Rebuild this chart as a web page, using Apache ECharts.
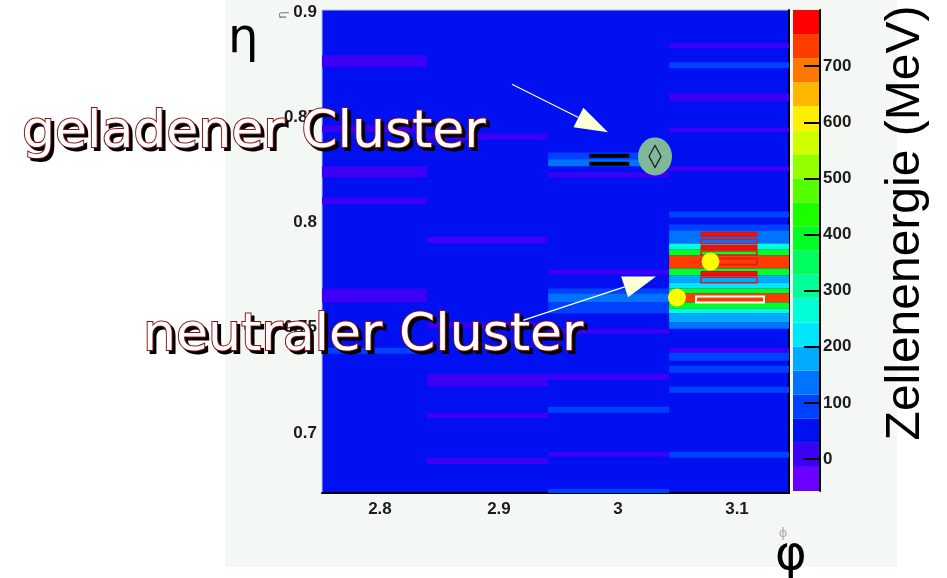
<!DOCTYPE html>
<html>
<head>
<meta charset="utf-8">
<script src="https://cdn.jsdelivr.net/npm/echarts@6/dist/echarts.min.js"></script>
<style>
html, body { margin: 0; padding: 0; background: #fff; }
#main { width: 947px; height: 578px; }
</style>
</head>
<body>
<div id="main"></div>
<script>
// phi edges of the calorimeter cell columns
var phiEdges = [2.738, 2.8396, 2.9413, 3.0430, 3.1447];

// cells per phi column: [etaLow, etaHigh, energy in MeV]
var col0Cells = [
  [0.8738, 0.8795, 5],
  [0.8429, 0.8462, 5],
  [0.8214, 0.8267, 5],
  [0.8086, 0.8119, 5],
  [0.7619, 0.7686, 5],
  [0.7376, 0.7405, 95]
];
var col1Cells = [
  [0.8395, 0.8424, 5],
  [0.7900, 0.7933, 5],
  [0.7500, 0.7524, 5],
  [0.7219, 0.7281, 5],
  [0.7071, 0.7095, 5],
  [0.6852, 0.6881, 5]
];
var col2Cells = [
  [0.8300, 0.8333, 95],
  [0.8267, 0.8300, 140],
  [0.8214, 0.8238, 5],
  [0.7752, 0.7776, 5],
  [0.7662, 0.7686, 95],
  [0.7619, 0.7662, 140],
  [0.7567, 0.7619, 95],
  [0.7471, 0.7495, 5],
  [0.7252, 0.7281, 5],
  [0.7095, 0.7124, 95],
  [0.6886, 0.6910, 5],
  [0.6714, 0.6733, 95]
];
var col3Cells = [
  [0.8829, 0.8852, 5],
  [0.8733, 0.8762, 95],
  [0.8576, 0.8614, 5],
  [0.8429, 0.8452, 5],
  [0.8243, 0.8267, 5],
  [0.8024, 0.8052, 95],
  [0.7962, 0.7990, 90],
  [0.7900, 0.7962, 140],
  [0.7871, 0.7900, 265],
  [0.7843, 0.7871, 390],
  [0.7781, 0.7843, 740],
  [0.7748, 0.7781, 390],
  [0.7714, 0.7748, 180],
  [0.7686, 0.7714, 220],
  [0.7662, 0.7686, 390],
  [0.7619, 0.7662, 735],
  [0.7590, 0.7619, 390],
  [0.7567, 0.7590, 265],
  [0.7524, 0.7567, 180],
  [0.7495, 0.7524, 140],
  [0.7381, 0.7405, 5],
  [0.7343, 0.7381, 95],
  [0.7286, 0.7319, 95],
  [0.7190, 0.7219, 95],
  [0.6881, 0.6910, 95]
];
var emptyCellEnergy = 50;

// cells attached to the track (black) and to the neutral cluster (red boxes)
// [phiLow, phiHigh, etaLow, etaHigh]
var trackCells = [
  [2.9759, 3.0095, 0.8308, 0.8327],
  [2.9759, 3.0095, 0.8270, 0.8289]
];
var neutralCellsFilled = [
  [3.0698, 3.1168, 0.7935, 0.7954],
  [3.0698, 3.1168, 0.7871, 0.7890],
  [3.0698, 3.1168, 0.7748, 0.7767]
];
var neutralCellsOpen = [
  [3.0698, 3.1168, 0.7899, 0.7922],
  [3.0698, 3.1168, 0.7845, 0.7864],
  [3.0698, 3.1168, 0.7800, 0.7829],
  [3.0698, 3.1168, 0.7713, 0.7740]
];
var hottestCell = [[3.0656, 3.1227, 0.7619, 0.7648]];

// cluster positions [phi, eta]
var chargedCluster = [[3.0311, 0.8314]];
var neutralClusters = [[3.0777, 0.7814], [3.0496, 0.7643]];

// arrows [phiFrom, etaFrom, phiTo, etaTo]
var arrows = [
  [2.9109, 0.8657, 2.9916, 0.8429],
  [2.9118, 0.7519, 3.0319, 0.7743]
];

// axes
var phiTicks = [2.8, 2.9, 3, 3.1];
var etaTicks = [0.7, 0.75, 0.8, 0.85, 0.9];
var energyTicks = [0, 100, 200, 300, 400, 500, 600, 700];
var zMin = -57, zMax = 800;
var levelColors = ['#6a00ff', '#3c00f4', '#0010f0', '#0040ff', '#0073ff', '#00aaff', '#00e6ff', '#00ffd8',
  '#00ff99', '#00ff5e', '#00ff22', '#19ff00', '#55ff00', '#95ff00', '#d0ff00', '#fff000',
  '#ffb700', '#ff7700', '#ff3c00', '#ff0000'];

var chart = echarts.init(document.getElementById('main'));

var step = (zMax - zMin) / levelColors.length;
var pieces = [], barData = [];
for (var i = 0; i < levelColors.length; i++) {
  var lo = zMin + i * step, hi = zMin + (i + 1) * step;
  pieces.push({ gte: lo, lt: hi + (i == levelColors.length - 1 ? 1 : 0), color: levelColors[i] });
  barData.push([0, 1, lo, hi, (lo + hi) / 2]);
}
function levelColor(v) {
  return levelColors[Math.max(0, Math.min(levelColors.length - 1, Math.floor((v - zMin) / step)))];
}

var cellData = [];
[col0Cells, col1Cells, col2Cells, col3Cells].forEach(function (col, c) {
  col.forEach(function (d) {
    cellData.push([phiEdges[c], phiEdges[c + 1], d[0], d[1], d[2]]);
  });
});

function renderCell(params, api) {
  var p0 = api.coord([api.value(0), api.value(3)]);
  var p1 = api.coord([api.value(1), api.value(2)]);
  return {
    type: 'rect',
    shape: { x: p0[0], y: p0[1], width: p1[0] - p0[0], height: p1[1] - p0[1] },
    style: { fill: api.visual('color') }
  };
}

function boxRenderer(fill, stroke, lw) {
  return function (params, api) {
    var p0 = api.coord([api.value(0), api.value(3)]);
    var p1 = api.coord([api.value(1), api.value(2)]);
    return {
      type: 'rect',
      shape: { x: p0[0], y: p0[1], width: p1[0] - p0[0], height: p1[1] - p0[1] },
      style: { fill: fill, stroke: stroke, lineWidth: lw }
    };
  };
}

function renderArrow(params, api) {
  var s = api.coord([api.value(0), api.value(1)]);
  var t = api.coord([api.value(2), api.value(3)]);
  var dx = t[0] - s[0], dy = t[1] - s[1];
  var len = Math.sqrt(dx * dx + dy * dy);
  var ux = dx / len, uy = dy / len;
  var hl = 33, hw = 11;
  var bx = t[0] - ux * hl, by = t[1] - uy * hl;
  return {
    type: 'group',
    children: [
      { type: 'line', shape: { x1: s[0], y1: s[1], x2: bx, y2: by }, style: { stroke: '#ffffff', lineWidth: 1.2 } },
      { type: 'polygon', shape: { points: [[t[0], t[1]], [bx - uy * hw, by + ux * hw], [bx + uy * hw, by - ux * hw]] },
        style: { fill: '#ffffd6' } }
    ]
  };
}

var bigFont = '52px "DejaVu Sans"';
function outlined(x, y, txt) {
  return [
    { type: 'text', x: x + 3, y: y + 3, z: 100,
      style: { text: txt, font: bigFont, fill: '#000', stroke: '#000', lineWidth: 2, verticalAlign: 'middle' } },
    { type: 'text', x: x, y: y, z: 101,
      style: { text: txt, font: bigFont, fill: '#ffffff', stroke: '#8b1414', lineWidth: 2, verticalAlign: 'middle' } }
  ];
}

var labelStyle = { color: '#1c1c1c', fontFamily: 'Liberation Sans', fontWeight: 'bold', fontSize: 17 };

var option = {
  backgroundColor: '#ffffff',
  animation: false,
  grid: [
    { left: 322, top: 10, width: 467, height: 483, show: true, backgroundColor: levelColor(emptyCellEnergy),
      borderColor: '#b8c4dc', borderWidth: 1 },
    { left: 793, top: 10, width: 27, height: 481 }
  ],
  xAxis: [
    { type: 'value', gridIndex: 0, min: 2.7513, max: 3.1437,
      axisLine: { onZero: false, lineStyle: { color: '#000', width: 2 } },
      axisTick: { show: false }, splitLine: { show: false },
      axisLabel: Object.assign({ customValues: phiTicks, margin: 8 }, labelStyle) },
    { type: 'value', gridIndex: 1, min: 0, max: 1, show: false }
  ],
  yAxis: [
    { type: 'value', gridIndex: 0, min: 0.6714, max: 0.901,
      axisLine: { show: false }, axisTick: { show: false }, splitLine: { show: false },
      axisLabel: Object.assign({ customValues: etaTicks, margin: 5 }, labelStyle) },
    { type: 'value', gridIndex: 0, position: 'right', min: 0.6714, max: 0.901,
      axisLine: { show: true, onZero: false, lineStyle: { color: '#000', width: 2 } },
      axisTick: { show: false }, axisLabel: { show: false }, splitLine: { show: false } },
    { type: 'value', gridIndex: 1, position: 'right', min: zMin, max: zMax, z: 10,
      axisLine: { show: true, onZero: false, lineStyle: { color: '#000', width: 2 } },
      axisTick: { show: true, inside: true, length: 16, customValues: energyTicks, lineStyle: { color: '#000', width: 2 } },
      splitLine: { show: false },
      axisLabel: Object.assign({ customValues: energyTicks, margin: 3 }, labelStyle) }
  ],
  visualMap: {
    type: 'piecewise', show: false, dimension: 4, seriesIndex: [0, 1], pieces: pieces
  },
  series: [
    { type: 'custom', name: 'cells', xAxisIndex: 0, yAxisIndex: 0, clip: true,
      renderItem: renderCell, encode: { x: [0, 1], y: [2, 3] }, data: cellData },
    { type: 'custom', name: 'palette', xAxisIndex: 1, yAxisIndex: 2,
      renderItem: renderCell, encode: { x: [0, 1], y: [2, 3] }, data: barData },
    { type: 'custom', name: 'track cells', xAxisIndex: 0, yAxisIndex: 0, z: 3,
      renderItem: boxRenderer('#000000', null, 0), encode: { x: [0, 1], y: [2, 3] }, data: trackCells },
    { type: 'custom', name: 'neutral cells', xAxisIndex: 0, yAxisIndex: 0, z: 3,
      renderItem: boxRenderer('#ff0a0a', '#d01010', 1), encode: { x: [0, 1], y: [2, 3] }, data: neutralCellsFilled },
    { type: 'custom', name: 'neutral cells open', xAxisIndex: 0, yAxisIndex: 0, z: 3,
      renderItem: boxRenderer(null, '#e01818', 1.5), encode: { x: [0, 1], y: [2, 3] }, data: neutralCellsOpen },
    { type: 'custom', name: 'hottest cell', xAxisIndex: 0, yAxisIndex: 0, z: 3,
      renderItem: boxRenderer(null, '#ffffff', 2), encode: { x: [0, 1], y: [2, 3] }, data: hottestCell },
    { type: 'scatter', name: 'charged', xAxisIndex: 0, yAxisIndex: 0, z: 4, symbol: 'circle',
      symbolSize: [34, 38], itemStyle: { color: '#80b89a', opacity: 1 }, data: chargedCluster },
    { type: 'scatter', name: 'charged mark', xAxisIndex: 0, yAxisIndex: 0, z: 5, symbol: 'diamond',
      symbolSize: [12, 22], itemStyle: { color: 'transparent', borderColor: '#1a1a1a', borderWidth: 1.3, opacity: 1 },
      data: chargedCluster },
    { type: 'scatter', name: 'neutral', xAxisIndex: 0, yAxisIndex: 0, z: 5, symbol: 'circle',
      symbolSize: 18, itemStyle: { color: '#ffff00', opacity: 1 }, data: neutralClusters },
    { type: 'custom', name: 'arrows', xAxisIndex: 0, yAxisIndex: 0, z: 6,
      renderItem: renderArrow, encode: { x: [0, 2], y: [1, 3] }, data: arrows }
  ],
  graphic: [
    { type: 'rect', z: -100, shape: { x: 225, y: 0, width: 672, height: 567 }, style: { fill: '#f4f8f4' } },
    { type: 'text', x: 228, y: 40, z: 50, style: { text: 'η', font: '48px "DejaVu Sans"', fill: '#000', verticalAlign: 'middle' } },
    { type: 'text', x: 775, y: 557, z: 50, style: { text: 'φ', font: '48px "DejaVu Sans"', fill: '#000', verticalAlign: 'middle' } },
    { type: 'text', x: 283, y: 15, z: 50, rotation: Math.PI / 2,
      style: { text: 'η', font: '12px "DejaVu Sans"', fill: '#777', align: 'center', verticalAlign: 'middle' } },
    { type: 'text', x: 783, y: 534, z: 50,
      style: { text: 'ϕ', font: '13px "DejaVu Sans"', fill: '#aaa', align: 'center', verticalAlign: 'middle' } },
    { type: 'text', x: 906, y: 223, z: 50, rotation: Math.PI / 2,
      style: { text: 'Zellenenergie (MeV)', font: '48px "Liberation Sans"', fill: '#000', align: 'center', verticalAlign: 'middle' } }
  ].concat(outlined(22, 133, 'geladener Cluster')).concat(outlined(143, 336, 'neutraler Cluster'))
};

chart.setOption(option);
</script>
</body>
</html>
